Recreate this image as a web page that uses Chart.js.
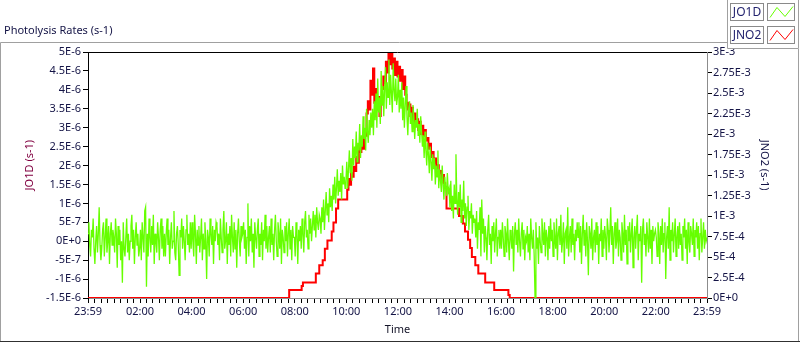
<!DOCTYPE html>
<html><head><meta charset="utf-8">
<script src="https://cdn.jsdelivr.net/npm/chart.js@4/dist/chart.umd.min.js"></script>
<style>html,body{margin:0;padding:0;background:#fff;overflow:hidden}canvas{display:block}</style>
</head><body>
<canvas id="c" width="800" height="342"></canvas>
<script>
const SERIES_LABELS = ['JO1D', 'JNO2'];
const AXIS_TITLES = ['JO1D (s-1)', 'JNO2 (s-1)', 'Time'];
const X_TICK_MINUTES = [-1, 120, 240, 360, 480, 600, 720, 840, 960, 1080, 1200, 1320, 1439];
const X_TICK_LABELS = ['23:59','02:00','04:00','06:00','08:00','10:00','12:00','14:00','16:00','18:00','20:00','22:00','23:59'];
const JO1D_TICKS = [-1.5e-6, -1e-6, -5e-7, 0, 5e-7, 1e-6, 1.5e-6, 2e-6, 2.5e-6, 3e-6, 3.5e-6, 4e-6, 4.5e-6, 5e-6];
const JNO2_TICKS = [0, 2.5e-4, 5e-4, 7.5e-4, 1e-3, 1.25e-3, 1.5e-3, 1.75e-3, 2e-3, 2.25e-3, 2.5e-3, 2.75e-3, 3e-3];

// JO1D: one reading every 2 minutes starting 23:59, values in units of 1e-7 s-1 (one row per hour)
const JO1D_START_MINUTE = -1;
const JO1D_SAMPLE_MINUTES = 2;
const JO1D_UNIT = 1e-7;
const JO1D_VALUES = [
  2, 5, -1, -4, 3, 1, 6, -2, -6, 0, 4, -3, 2, 9, -1, -5, -2, 3, 5, -4, 1, 6, -3, 0, 4, -6, 2, 5, -1, 3,
  1, -3, 6, 2, -7, 4, -1, 3, -5, 0, -11, 5, -2, -4, 1, 6, -3, 2, -5, 0, 4, 7, -2, 3, -6, 1, 5, -1, 2, -4,
  -2, 3, -5, 5, 1, -3, 8, 9, -12, 2, -4, 6, 1, -3, 4, -1, 7, -6, 2, 0, -3, 5, 1, -5, 3, 6, -2, 4, -4, 2,
  -4, 2, 6, -1, 3, -6, 1, 5, -2, 0, 8, -3, -5, 2, 4, -1, -9, 3, 1, 6, -2, 4, 0, -5, 3, 7, -1, 2, -3, 5,
  -2, 5, 0, -4, 7, 2, -6, 3, -1, 4, -3, 1, 6, -5, 2, -2, 5, 0, -10, 3, 1, -4, 6, 2, -1, 4, -6, 3, 0, 5,
  4, -1, 2, -5, 6, 1, -3, 3, 8, -2, 0, 5, -6, 2, -1, 4, -4, 7, 1, -3, 5, -2, 3, -7, 2, 6, 0, -4, 4, 1,
  2, 5, -2, 3, -6, 1, 10, -4, 4, 0, 6, -3, 2, -7, 5, 1, -2, 3, 6, -4, 2, -1, 5, -5, 3, 0, 7, -2, 4, -3,
  1, 4, -3, 6, -1, 2, -5, 3, 7, 0, -4, 5, 2, -2, 6, -6, 3, 1, -3, 4, 0, 5, -4, 2, 6, -2, 3, -5, 4, 1,
  1, -4, 5, 2, -6, 3, 0, 4, -2, 6, 2, -3, 5, 8, 1, 3, -2, 7, 2, 6, 0, 4, 8, 3, 7, 1, 9, 5, 3, 7,
  6, 2, 9, 5, 11, 3, 8, 13, 7, 10, 5, 14, 9, 12, 8, 15, 11, 17, 10, 14, 19, 12, 16, 13, 18, 11, 20, 15, 17, 14,
  16, 21, 14, 19, 24, 18, 22, 16, 27, 20, 25, 22, 29, 21, 26, 24, 31, 22, 28, 25, 33, 27, 30, 24, 35, 29, 26, 32, 28, 34,
  30, 35, 28, 37, 32, 39, 30, 43, 34, 38, 31, 45, 36, 41, 33, 40, 46, 35, 42, 38, 48, 36, 44, 39, 34, 47, 40, 37, 43, 36,
  38, 44, 34, 40, 35, 42, 32, 38, 30, 36, 41, 33, 28, 35, 37, 31, 34, 29, 36, 33, 27, 32, 30, 35, 28, 31, 26, 33, 29, 25,
  28, 22, 29, 24, 20, 26, 23, 18, 25, 21, 16, 23, 19, 22, 15, 20, 17, 24, 14, 19, 16, 13, 20, 15, 11, 17, 14, 12, 18, 13,
  14, 9, 16, 8, 12, 6, 15, 10, 23, 11, 7, 13, 9, 15, 5, 11, 8, 16, 6, 10, 4, 9, 12, 3, 8, 6, 10, 2, 7, 5,
  6, 1, 8, -2, 5, 3, 9, -4, 11, 2, 6, -3, 4, 1, -5, 3, 7, -1, 2, -6, 4, 0, 5, -3, 2, 6, -4, 1, 3, -2,
  3, -2, 5, 1, -4, 4, 2, -3, 6, 0, -5, 3, 1, -2, 4, -8, 2, 5, -1, 3, -3, 6, 0, -4, 2, 5, -2, 3, -5, 1,
  0, 4, -3, 2, -5, 6, 1, -2, 3, -4, -15, 5, -2, 1, -6, 4, 0, -3, 6, 2, -1, 5, -4, 3, 1, -5, 4, -2, 6, 0,
  3, -4, 5, 1, -2, 6, -5, 2, 4, -1, 7, -3, 0, 5, -6, 2, 3, -2, 9, -4, 1, 4, -3, 6, -1, 2, -5, 3, 0, 5,
  1, 5, -3, 4, -6, 2, 7, -1, 3, -4, 5, 0, -9, 4, 2, -2, 6, -5, 1, 3, -3, 5, -1, 4, -6, 2, 0, 6, -4, 3,
  -2, 4, 1, -5, 6, 3, -3, 2, 9, -1, 4, -6, 2, 5, -2, 0, 6, -4, 3, 1, -5, 5, 2, -3, 7, -1, 3, -6, 4, 0,
  5, -3, 2, 6, -7, 1, 4, -2, 3, 7, -5, 2, 0, 4, -11, 3, 6, -1, 2, -4, 5, 1, -3, 6, -2, 3, -6, 4, 0, 2,
  3, 1, -4, 5, 2, -6, 4, -1, 6, -3, 2, 5, -10, 1, 4, -2, 9, -5, 3, 0, 5, -3, 2, 6, -4, 1, 4, -2, 5, -1,
  2, -5, 4, 1, 6, -2, 3, -6, 5, 0, -3, 4, 2, -1, 6, -4, 3, 1, 5, -2, 4, -5, 2, 6, -3, 1, 5, -2, 3, 0,
  1
];

// JNO2: stepped readings (minute of day, value in units of 1e-3 s-1)
const JNO2_UNIT = 1e-3;
const JNO2_MINUTES = [
  -1, 467, 496, 499, 529, 537, 545, 550, 556, 566, 570, 576, 581,
  602, 605, 608, 611, 614, 617, 620, 623, 626, 629, 632, 635, 638, 641, 644, 647, 650, 653, 656, 659,
  662, 665, 668, 671, 674, 677, 680, 683, 686, 689, 692, 695, 698, 701, 704, 707, 710, 713, 716, 719,
  722, 725, 728, 731, 734, 737, 740, 743, 746, 749, 752, 755, 758, 761, 764, 767, 770, 773, 776, 779,
  782, 785, 788, 791, 794, 797, 800, 803, 806, 809, 812, 815, 818, 821, 824, 827, 830,
  833, 862, 871, 876, 883, 888, 892, 900, 907, 923, 944, 977, 980, 1439
];
const JNO2_VALUES = [
  0, 0.098, 0.146, 0.19, 0.30, 0.40, 0.46, 0.60, 0.70, 0.81, 0.92, 1.09, 1.20,
  1.32, 1.45, 1.38, 1.52, 1.48, 1.60, 1.55, 1.72, 1.65, 1.85, 1.78, 1.90, 1.82, 2.05, 1.98, 2.25, 2.40, 2.30, 2.65, 2.48,
  2.80, 2.38, 2.55, 2.30, 2.45, 2.22, 2.40, 2.55, 2.70, 2.62, 2.88, 2.75, 3.00, 2.85, 3.00, 2.80, 2.92, 2.72, 2.88, 2.70,
  2.82, 2.65, 2.78, 2.55, 2.70, 2.48, 2.38, 2.30, 2.36, 2.22, 2.32, 2.15, 2.25, 2.10, 2.18, 2.05, 2.15, 2.00, 2.10, 1.98,
  2.05, 1.92, 1.95, 1.82, 1.88, 1.72, 1.78, 1.65, 1.70, 1.58, 1.62, 1.52, 1.55, 1.45, 1.50, 1.40, 1.35,
  1.09, 1.00, 0.91, 0.81, 0.71, 0.61, 0.50, 0.40, 0.30, 0.19, 0.098, 0.037, 0, 0
];

const FONT = "'Noto Sans', sans-serif";
const TXT = '#141446';

function fmtE(v) {
  if (Math.abs(v) < 1e-15) return '0E+0';
  return Number(v.toPrecision(4)).toExponential().replace('e', 'E');
}

const framePlugin = {
  id: 'frame',
  beforeDraw(chart) {
    const ctx = chart.ctx, W = chart.width, H = chart.height;
    ctx.save();
    ctx.fillStyle = '#fff';
    ctx.fillRect(0, 0, W, H);
    ctx.strokeStyle = '#a0a0a0';
    ctx.lineWidth = 1;
    ctx.beginPath();
    ctx.moveTo(0.5, H);
    ctx.lineTo(0.5, 42.5);
    ctx.lineTo(W - 1.5, 42.5);
    ctx.lineTo(W - 1.5, H);
    ctx.stroke();
    ctx.strokeStyle = '#303030';
    ctx.beginPath();
    ctx.moveTo(0, H - 0.5);
    ctx.lineTo(W, H - 0.5);
    ctx.stroke();
    ctx.restore();
  },
  afterDatasetsDraw(chart) {
    const ctx = chart.ctx, a = chart.chartArea;
    ctx.save();
    ctx.strokeStyle = '#000';
    ctx.lineWidth = 1;
    ctx.beginPath();
    ctx.moveTo(a.left, Math.round(a.top) + 0.5);
    ctx.lineTo(a.right, Math.round(a.top) + 0.5);
    ctx.stroke();
    // y-axis titles, placed a little above the middle of the plot as in the original
    const cy = a.top + (a.bottom - a.top) * 0.46;
    ctx.font = "11px " + FONT;
    ctx.textAlign = 'center';
    ctx.textBaseline = 'middle';
    ctx.save();
    ctx.translate(chart.scales.y.left + 26, cy);
    ctx.rotate(-Math.PI / 2);
    ctx.fillStyle = '#800040';
    ctx.fillText(AXIS_TITLES[0], 0, 0);
    ctx.restore();
    ctx.save();
    ctx.translate(chart.scales.y1.right - 34, cy);
    ctx.rotate(Math.PI / 2);
    ctx.fillStyle = TXT;
    ctx.fillText(AXIS_TITLES[1], 0, 0);
    ctx.restore();
    ctx.restore();
  },
  afterDraw(chart) {
    const ctx = chart.ctx, W = chart.width;
    ctx.save();
    ctx.fillStyle = '#fff';
    ctx.fillRect(727, 0, W - 728, 49);
    ctx.strokeStyle = '#a0a0a0';
    ctx.lineWidth = 1;
    ctx.beginPath();
    ctx.moveTo(727.5, 0);
    ctx.lineTo(727.5, 48.5);
    ctx.lineTo(W - 1.5, 48.5);
    ctx.lineTo(W - 1.5, 0);
    ctx.stroke();
    chart.data.datasets.forEach((ds, i) => {
      const y0 = 3.5 + i * 23;
      ctx.strokeStyle = '#8a8a8a';
      ctx.lineWidth = 1;
      ctx.strokeRect(730.5, y0, 33, 17);
      ctx.strokeRect(767.5, y0, 27, 17);
      ctx.fillStyle = '#23236e';
      ctx.font = "12px " + FONT;
      ctx.textAlign = 'center';
      ctx.textBaseline = 'middle';
      ctx.fillText(ds.label, 747, y0 + 9);
      ctx.strokeStyle = ds.borderColor;
      ctx.beginPath();
      ctx.moveTo(770, y0 + 14);
      ctx.lineTo(777, y0 + 4);
      ctx.lineTo(785, y0 + 13);
      ctx.lineTo(793, y0 + 3);
      ctx.stroke();
    });
    ctx.restore();
  }
};

const jo1dData = JO1D_VALUES.map((v, i) => ({ x: JO1D_START_MINUTE + i * JO1D_SAMPLE_MINUTES, y: v * JO1D_UNIT }));
const jno2Data = JNO2_MINUTES.map((m, i) => ({ x: m, y: JNO2_VALUES[i] * JNO2_UNIT }));

function xTicks(scale) {
  const t = X_TICK_MINUTES.map(v => ({ value: v }));
  for (let m = 15; m < 1439; m += 15) {
    if (!X_TICK_MINUTES.some(v => Math.abs(v - m) < 5)) t.push({ value: m });
  }
  t.sort((a, b) => a.value - b.value);
  scale.ticks = t;
}

new Chart(document.getElementById('c'), {
  type: 'line',
  data: {
    datasets: [
      { label: SERIES_LABELS[0], data: jo1dData, yAxisID: 'y', borderColor: '#66ff00', borderWidth: 1.3, pointRadius: 0, tension: 0 },
      { label: SERIES_LABELS[1], data: jno2Data, yAxisID: 'y1', borderColor: '#ff0000', borderWidth: 2, pointRadius: 0, stepped: true }
    ]
  },
  options: {
    responsive: false,
    animation: false,
    events: [],
    layout: { padding: { left: 4, right: 2, top: 0, bottom: 0 } },
    plugins: {
      legend: { display: false },
      tooltip: { enabled: false },
      title: {
        display: true, text: 'Photolysis Rates (s-1)', align: 'start', color: TXT,
        font: { family: FONT, size: 11, weight: 'normal' },
        padding: { top: 24.4, bottom: 14.4 }
      }
    },
    scales: {
      x: {
        type: 'linear', min: -1, max: 1439,
        afterBuildTicks: xTicks,
        afterFit(s) { s.height = 44; },
        ticks: {
          autoSkip: false, maxRotation: 0, minRotation: 0, padding: 2, color: TXT,
          font: { family: FONT, size: 11 },
          callback(v) { const i = X_TICK_MINUTES.indexOf(v); return i >= 0 ? X_TICK_LABELS[i] : ''; }
        },
        grid: { drawOnChartArea: false, drawTicks: true, tickLength: 5, color: '#000' },
        border: { display: true, color: '#8c8c8c' },
        title: { display: true, text: AXIS_TITLES[2], color: '#141428', font: { family: FONT, size: 11 }, padding: { top: 0, bottom: 5.4 } }
      },
      y: {
        position: 'left', min: -1.5e-6, max: 5e-6,
        afterBuildTicks(s) { s.ticks = JO1D_TICKS.map(v => ({ value: v })); },
        afterFit(s) { s.width = 84; },
        ticks: { callback: v => fmtE(v), padding: 2, color: TXT, font: { family: FONT, size: 11 } },
        grid: { drawOnChartArea: false, drawTicks: true, tickLength: 5, color: '#000' },
        border: { display: true, color: '#000' }
      },
      y1: {
        position: 'right', min: 0, max: 3e-3,
        afterBuildTicks(s) { s.ticks = JNO2_TICKS.map(v => ({ value: v })); },
        afterFit(s) { s.width = 91; },
        ticks: { callback: v => fmtE(v), padding: 1, color: TXT, font: { family: FONT, size: 11 } },
        grid: { drawOnChartArea: false, drawTicks: true, tickLength: 5, color: '#000' },
        border: { display: true, color: '#8c8c8c' }
      }
    }
  },
  plugins: [framePlugin]
});
</script>
</body></html>
